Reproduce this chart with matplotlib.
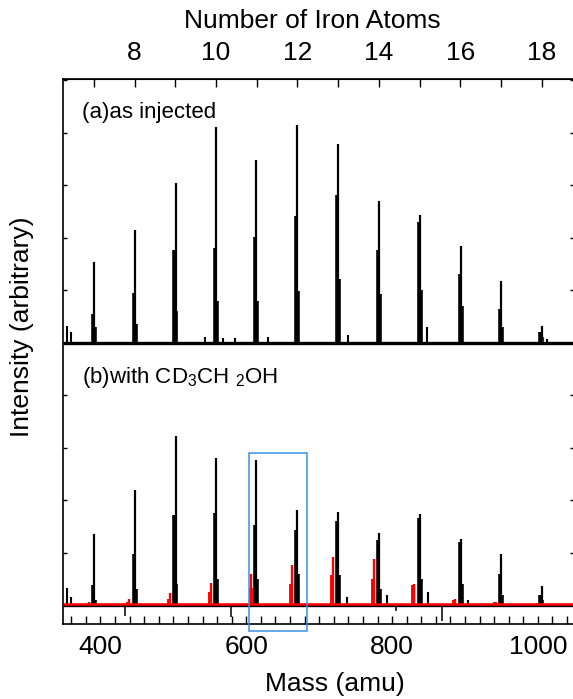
import numpy as np
import matplotlib
matplotlib.use('Agg')
import matplotlib.pyplot as plt
from matplotlib.patches import Rectangle

plt.rcParams['font.family'] = ['Liberation Sans', 'DejaVu Sans']
plt.rcParams['mathtext.fontset'] = 'custom'
plt.rcParams['mathtext.rm'] = 'Liberation Sans'
plt.rcParams['mathtext.it'] = 'Liberation Sans'

# cluster peak masses (Fe7 ... Fe18), amu
peak_mass = [391, 447, 503, 558, 614, 670, 726, 782, 838, 894, 950, 1005]
# (a) as injected: main spike, low-mass shoulder, high-mass foot
top_main = [1.54, 2.15, 3.04, 4.10, 3.47, 4.14, 3.78, 2.69, 2.43, 1.84, 1.18, 0.32]
top_shoulder = [0.54, 0.94, 1.77, 1.80, 2.02, 2.41, 2.81, 1.76, 2.30, 1.30, 0.64, 0.20]
top_foot = [0.30, 0.35, 0.60, 0.80, 0.80, 0.98, 1.21, 0.92, 1.00, 0.70, 0.30, 0.10]
# (b) with CD3CH2OH, black trace
bot_main = [1.35, 2.19, 3.22, 2.80, 2.76, 1.81, 1.78, 1.38, 1.73, 1.26, 0.98, 0.37]
bot_shoulder = [0.38, 0.97, 1.71, 1.75, 1.52, 1.43, 1.60, 1.24, 1.66, 1.20, 0.60, 0.20]
bot_foot = [0.10, 0.30, 0.40, 0.50, 0.50, 0.60, 0.57, 0.30, 0.50, 0.40, 0.20, 0.10]
# (b) red trace
red_mass = [384, 439, 495, 551, 607, 663, 719, 775, 830, 886, 943, 999]
red_main = [0.05, 0.11, 0.23, 0.42, 0.59, 0.76, 0.91, 0.88, 0.41, 0.11, 0.06, 0.04]
red_shoulder = [0.03, 0.06, 0.12, 0.25, 0.32, 0.41, 0.58, 0.50, 0.38, 0.09, 0.05, 0.03]
# small side peaks
top_small_mass = [354, 360, 543, 568, 585, 630, 740, 848, 1012]
top_small_h = [0.32, 0.20, 0.10, 0.08, 0.08, 0.10, 0.15, 0.29, 0.06]
bot_small_mass = [354, 360, 738, 793, 849, 904]
bot_small_h = [0.32, 0.15, 0.15, 0.20, 0.25, 0.10]
bot_dip_mass = [434, 579, 806, 869]
bot_dip_h = [-0.20, -0.23, -0.12, -0.30]

offset = 5.0
xmin, xmax = 348.6, 1049.5
fe_mass = 55.845

fig = plt.figure(figsize=(5.73, 6.99), dpi=100)
ax = fig.add_axes([63/573, 75/699, 511/573, 545/699])

pm = np.array(peak_mass, dtype=float)
rm = np.array(red_mass, dtype=float)

# top trace
ax.hlines(offset, xmin, xmax, color='black', lw=2.4)
ax.vlines(pm - 1.5, offset, offset + np.array(top_shoulder), color='black', lw=2.6)
ax.vlines(pm + 1.2, offset, offset + np.array(top_foot), color='black', lw=2.6)
ax.vlines(pm, offset, offset + np.array(top_main), color='black', lw=1.6)
ax.vlines(top_small_mass, offset, offset + np.array(top_small_h), color='black', lw=1.5)

# bottom trace, black
ax.hlines(0, xmin, xmax, color='black', lw=2.4)
ax.vlines(pm - 1.5, 0, bot_shoulder, color='black', lw=2.6)
ax.vlines(pm + 1.2, 0, bot_foot, color='black', lw=2.6)
ax.vlines(pm, 0, bot_main, color='black', lw=1.6)
ax.vlines(bot_small_mass, 0, bot_small_h, color='black', lw=1.5)
ax.vlines(bot_dip_mass, 0, bot_dip_h, color='black', lw=1.1)

# bottom trace, red
ax.hlines(0.03, xmin, xmax, color='red', lw=1.8, zorder=3)
ax.vlines(rm - 1.2, 0, red_shoulder, color='red', lw=2.8, zorder=3)
ax.vlines(rm, 0, red_main, color='red', lw=1.7, zorder=3)

# highlight box
ax.add_patch(Rectangle((603.7, -0.5), 682.9 - 603.7, 3.4, fill=False,
                       edgecolor='#3a8fe8', lw=1.1, clip_on=False, zorder=4))

ax.text(374, 9.39, '(a)as injected', fontsize=16, va='center', ha='left')
ax.text(374, 4.34, '(b)with CD$_3$CH $_2$OH', fontsize=16, va='center', ha='left')

ax.set_xlim(xmin, xmax)
ax.set_ylim(-0.36, 10.02)
ax.set_xticks([400, 600, 800, 1000])
ax.set_xticks(np.arange(360, 1041, 20), minor=True)
ax.set_yticks(np.arange(0, 11, 1))
ax.set_yticklabels([])
ax.tick_params(axis='x', which='both', direction='in', length=5.5, width=1,
               labelsize=19, pad=8, top=False)
ax.tick_params(axis='y', direction='in', length=3, width=1, left=True, right=True)
for s in ax.spines.values():
    s.set_linewidth(1.2)

ax.set_xlabel('Mass (amu)', fontsize=19)
ax.xaxis.set_label_coords(0.532, -0.088)
ax.set_ylabel('Intensity (arbitrary)', fontsize=19)
ax.yaxis.set_label_coords(-0.057, 0.545)

top = ax.secondary_xaxis('top', functions=(lambda m: m / fe_mass, lambda n: n * fe_mass))
top.set_xticks([8, 10, 12, 14, 16, 18])
top.set_xticks([7, 9, 11, 13, 15, 17], minor=True)
top.tick_params(which='both', direction='in', length=5.5, width=1, labelsize=19, pad=10)
ax.text(0.488, 1.084, 'Number of Iron Atoms', fontsize=19, ha='center', va='bottom',
        transform=ax.transAxes)

fig.savefig('out.png', dpi=100)
